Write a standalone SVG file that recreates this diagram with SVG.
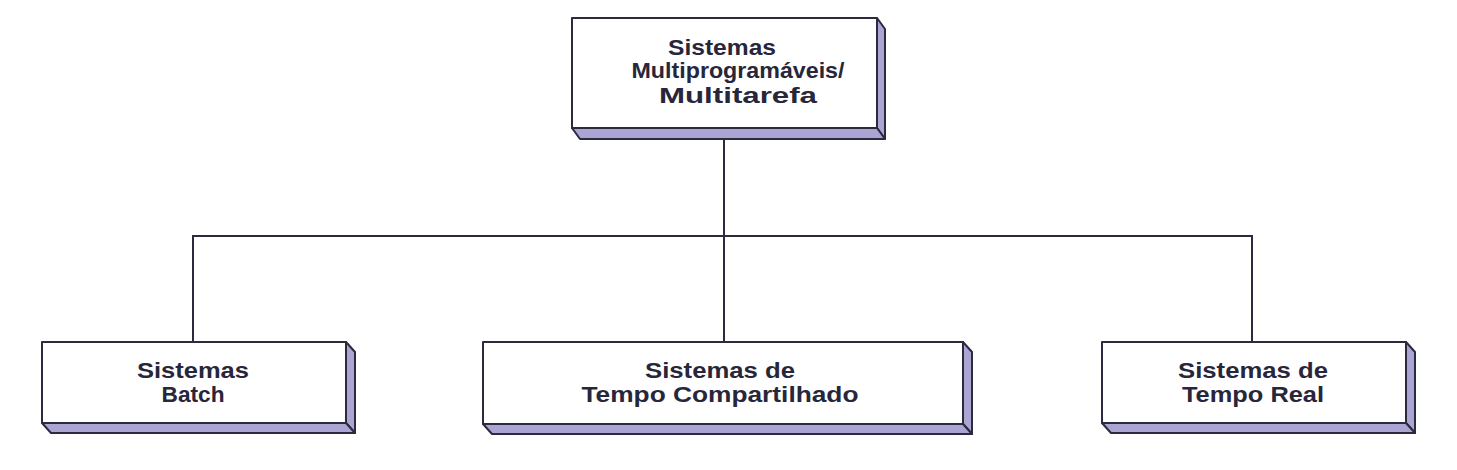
<svg xmlns="http://www.w3.org/2000/svg" width="1457" height="470" viewBox="0 0 1457 470">
<style>
.front{fill:#ffffff;stroke:#2c2a3e;stroke-width:2;stroke-linejoin:round}
.side{fill:#aaa5d2;stroke:#2c2a3e;stroke-width:2;stroke-linejoin:round}
.lbl{font-family:"Liberation Sans",Arial,sans-serif;font-weight:bold;font-size:22px;fill:#28263a;text-anchor:middle}
.conn{fill:none;stroke:#2c2a3e;stroke-width:2}
</style>
<rect width="1457" height="470" fill="#ffffff"/>
<g id="connectors">
<path class="conn" d="M724,139 V236"/>
<path class="conn" d="M193,342 V236 H1252 V342"/>
<path class="conn" d="M724,236 V342"/>
</g>
<g id="node-top">
<polygon class="side" points="877,18 885,29 885,139 877,128"/>
<polygon class="side" points="572,128 877,128 885,139 580,139"/>
<rect class="front" x="572" y="18" width="305" height="110"/>
<text class="lbl" x="722" y="55" textLength="108" lengthAdjust="spacingAndGlyphs">Sistemas</text>
<text class="lbl" x="738" y="78" textLength="213" lengthAdjust="spacingAndGlyphs">Multiprogramáveis/</text>
<text class="lbl" x="738" y="103" textLength="158" lengthAdjust="spacingAndGlyphs">Multitarefa</text>
</g>
<g id="node-batch">
<polygon class="side" points="346,342 355,352 355,433 346,423"/>
<polygon class="side" points="42,423 346,423 355,433 51,433"/>
<rect class="front" x="42" y="342" width="304" height="81"/>
<text class="lbl" x="193" y="378" textLength="112" lengthAdjust="spacingAndGlyphs">Sistemas</text>
<text class="lbl" x="193" y="402" textLength="63" lengthAdjust="spacingAndGlyphs">Batch</text>
</g>
<g id="node-tempo-compartilhado">
<polygon class="side" points="963,342 972,352 972,434 963,424"/>
<polygon class="side" points="483,424 963,424 972,434 492,434"/>
<rect class="front" x="483" y="342" width="480" height="82"/>
<text class="lbl" x="720" y="378" textLength="150" lengthAdjust="spacingAndGlyphs">Sistemas de</text>
<text class="lbl" x="720" y="402" textLength="277" lengthAdjust="spacingAndGlyphs">Tempo Compartilhado</text>
</g>
<g id="node-tempo-real">
<polygon class="side" points="1406,342 1415,352 1415,433 1406,423"/>
<polygon class="side" points="1102,423 1406,423 1415,433 1111,433"/>
<rect class="front" x="1102" y="342" width="304" height="81"/>
<text class="lbl" x="1253" y="378" textLength="150" lengthAdjust="spacingAndGlyphs">Sistemas de</text>
<text class="lbl" x="1253" y="402" textLength="142" lengthAdjust="spacingAndGlyphs">Tempo Real</text>
</g>
</svg>
